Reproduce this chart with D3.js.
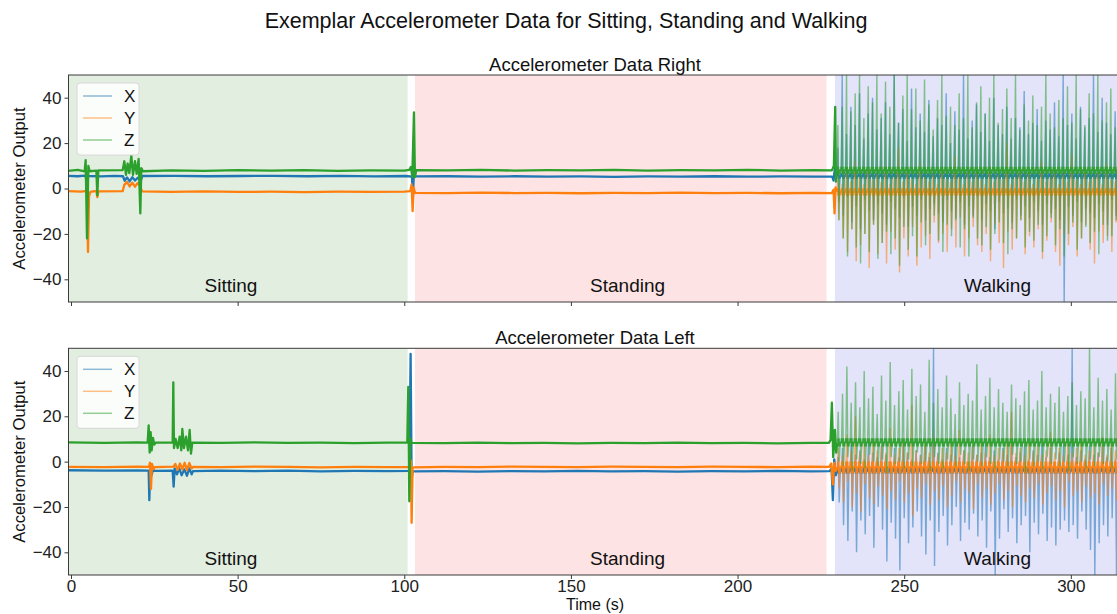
<!DOCTYPE html>
<html><head><meta charset="utf-8">
<script src="https://cdn.jsdelivr.net/npm/d3@7/dist/d3.min.js"></script>
<style>body{margin:0;background:#fff}</style>
</head><body>
<svg id="chart" width="1117" height="614"></svg>
<script>
// ---------------- DATA ----------------
const seriesNames = ["X", "Y", "Z"];
const xTicks = [0, 50, 100, 150, 200, 250, 300];
const yTicks = [-40, -20, 0, 20, 40];
const activities = ["Sitting", "Standing", "Walking"];
const activityStart = [-0.75, 103.2, 229.2];
const activityEnd = [101.0, 226.7, 315.2];
const activityLabelT = [48, 167, 278];

// Right sensor: calm periods [time, value]
const rightXCalm = [[-0.8,5.6],[2,5.4],[4.3,5.7],[4.6,4.0],[4.9,6.6],[5.3,5.5],[9,5.3],[13,5.6],[15.6,5.4],[16.1,3.4],[16.8,4.9],[17.6,3.1],[18.4,5.0],[19.2,3.5],[20.1,4.8],[20.9,3.2],[21.4,5.5],[31,5.6],[41,5.4],[51,5.5],[61,5.6],[71,5.4],[81,5.6],[91,5.3],[100.5,5.5],[102.3,5.2],[102.6,-4],[102.9,7.5],[103.3,5.3],[113,5.4],[123,5.2],[133,5.4],[143,5.2],[153,5.3],[163,5.1],[173,5.3],[183,5.2],[193,5.4],[203,5.2],[213,5.3],[223,5.2],[228.4,5.2],[228.8,3.5],[229.2,9],[229.8,5.5]];
const rightYCalm = [[-0.8,-1.2],[3,-1.4],[4.8,-1.0],[5.1,-28],[5.4,-3.5],[5.8,-1.5],[7.6,-1.0],[7.9,-3.8],[8.2,-1.3],[15.5,-1.2],[16,1.6],[16.8,2.9],[17.6,0.9],[18.4,2.6],[19.2,0.8],[20,2.4],[20.8,1.0],[21.3,-1.3],[30,-1.5],[40,-1.3],[50,-1.5],[60,-1.4],[70,-1.6],[80,-1.4],[90,-1.5],[100,-1.4],[101.8,-1.2],[102.2,1.8],[102.5,-10],[102.8,0.5],[103.2,-1.9],[113,-2.0],[123,-1.8],[133,-2.0],[143,-1.9],[153,-2.1],[163,-1.9],[173,-2.0],[183,-1.8],[193,-2.0],[203,-1.9],[213,-2.1],[223,-1.9],[228.3,-2.0],[228.8,-0.5],[229.1,-11],[229.4,0.5],[229.8,-1.5]];
const rightZCalm = [[-0.8,7.8],[2,8.2],[4.1,7.5],[4.4,12.5],[4.8,-22],[5.2,10],[5.6,7.6],[7.6,7.9],[7.9,-3],[8.2,8],[15.5,8.1],[16,12],[16.5,6],[17,11],[17.5,6.8],[18.1,14.5],[18.6,6],[19.2,12],[19.7,6.5],[20.3,13],[20.8,-11],[21.1,9],[21.6,7.6],[30,8.0],[40,7.8],[50,8.1],[60,7.9],[70,8.1],[80,7.8],[90,8.0],[100,7.9],[101.5,8.2],[102,9.5],[102.4,5],[102.9,33.5],[103.2,5],[103.6,8.1],[113,8.0],[123,8.2],[133,7.9],[143,8.1],[153,8.0],[163,8.2],[173,7.9],[183,8.1],[193,8.0],[203,8.2],[213,7.9],[223,8.1],[228.3,8.0],[228.9,10],[229.3,36],[229.5,3],[229.8,8]];

// Right sensor walking: per-stride peaks and troughs
const rightWalkStart = 229.8;
const rightBase = [5.5, -1.5, 8];
const rightXPeaks = [18,50,24,36,28,42,22,33,40,26,31, 38,24,50,29,35,21,44,27,33,25,39, 23,31,28,42,20,34,26,50,22,30,37, 25,33,21,40,28,24,36,22,31,27,43, 24,29,35,21,30,26,38,23,50,28,33, 22,36,27,31,50,25,40,29,24,34,26];
const rightXTroughs = [-6,-12,-4,-15,-8,-18,-5,-10,-14,-7,-11, -16,-6,-9,-13,-4,-17,-8,-12,-5,-14,-9, -7,-11,-15,-5,-10,-13,-6,-16,-8,-12,-4, -14,-7,-10,-18,-6,-11,-9,-15,-5,-12,-8, -13,-6,-10,-16,-7,-11,-9,-14,-50,-8,-12, -6,-15,-9,-11,-13,-7,-10,-16,-5,-12,-8];
const rightYPeaks = [4,2,8,3,12,5,2,9,4,6,3, 10,2,5,18,3,7,4,2,11,5,3, 6,2,9,4,3,14,5,2,7,3,8, 4,2,10,3,6,4,20,2,5,9,3, 7,2,4,12,3,5,8,2,6,3,15, 4,2,9,3,5,7,2,11,4,3,6];
const rightYTroughs = [-14,-22,-28,-18,-32,-25,-20,-35,-16,-29,-24, -33,-19,-27,-37,-22,-30,-17,-34,-26,-21,-31, -15,-24,-20,-28,-18,-26,-13,-30,-22,-17,-25, -28,-20,-32,-16,-24,-35,-19,-27,-22,-14,-29, -21,-26,-18,-31,-23,-15,-28,-34,-20,-25,-17, -30,-22,-16,-27,-33,-19,-24,-21,-28,-15,-23];
const rightZPeaks = [28,36,50,34,42,50,31,45,38,50,33, 47,36,50,29,41,50,35,44,30,48,37, 26,39,50,32,36,28,42,31,50,27,38, 45,33,40,50,29,35,44,31,50,26,37, 30,41,28,36,50,33,27,39,31,45,29, 50,35,28,42,33,50,30,38,44,27,36];
const rightZTroughs = [-14,-22,-30,-18,-26,-33,-20,-28,-16,-31,-24, -19,-29,-22,-34,-17,-27,-21,-30,-15,-25,-20, -12,-23,-28,-16,-21,-14,-26,-18,-30,-13,-22, -25,-17,-27,-20,-15,-24,-29,-18,-22,-14,-26, -19,-23,-16,-28,-21,-13,-25,-18,-30,-20,-15, -27,-22,-17,-24,-19,-29,-16,-23,-21,-14,-20];

// Left sensor: calm periods [time, value]
const leftXCalm = [[-0.8,-3.8],[10,-4.0],[20,-3.9],[23.3,-4],[23.5,-17],[23.8,-2],[24.2,-6],[24.6,-3.4],[25,-4.1],[30.5,-4],[30.8,-11],[31.1,-3],[31.8,-5.6],[32.5,-3],[33.2,-6],[34,-3.4],[34.8,-6.2],[35.5,-3],[36.2,-5.6],[36.6,-4.2],[45,-4],[55,-4.2],[65,-4.0],[75,-4.3],[85,-4.1],[95,-4.2],[101.5,-4.1],[101.9,47.5],[102.2,-8],[102.5,-4.3],[112,-4.2],[122,-4.4],[132,-4.2],[142,-4.3],[152,-4.1],[162,-4.3],[172,-4.2],[182,-4.4],[192,-4.2],[202,-4.3],[212,-4.1],[222,-4.3],[227.6,-4.2],[228.2,-3],[228.6,-17],[229,1],[229.5,-6],[229.9,-4]];
const leftYCalm = [[-0.8,-2.3],[10,-2.4],[20,-2.2],[23.4,-2.3],[23.7,-0.5],[24,-12],[24.3,-1],[24.8,-3.2],[25.2,-2.4],[30.8,-2.2],[31.3,-1],[32,-3.6],[32.7,-0.8],[33.4,-3.4],[34.1,-0.5],[34.8,-3.7],[35.5,-0.6],[36.2,-3.1],[36.6,-2.3],[45,-2.4],[55,-2.2],[65,-2.3],[75,-2.5],[85,-2.3],[95,-2.4],[101.7,-2.3],[102.0,0.5],[102.2,-27],[102.5,-2.5],[112,-2.3],[122,-2.4],[132,-2.2],[142,-2.3],[152,-2.4],[162,-2.2],[172,-2.3],[182,-2.4],[192,-2.2],[202,-2.3],[212,-2.4],[222,-2.2],[227.5,-2.3],[228.1,-0.8],[228.6,-10],[229,-0.5],[229.5,-4],[229.9,-2.5]];
const leftZCalm = [[-0.8,8.5],[10,8.3],[20,8.5],[23,8.4],[23.3,16],[23.6,4],[23.9,13],[24.2,5],[24.6,10.5],[25,7.5],[25.4,8.4],[30.5,8.4],[30.7,35],[30.9,6],[31.4,10],[32,6],[32.6,11],[33.1,5],[33.4,14.5],[33.9,6],[34.5,11],[35.1,5],[35.6,14],[36,3.5],[36.4,8.4],[45,8.3],[55,8.5],[65,8.3],[75,8.4],[85,8.2],[95,8.4],[100.9,8.4],[101.2,33],[101.5,-17.5],[101.8,10],[102.2,8.3],[112,8.2],[122,8.4],[132,8.2],[142,8.3],[152,8.1],[162,8.3],[172,8.2],[182,8.4],[192,8.2],[202,8.3],[212,8.1],[222,8.3],[227.4,8.3],[227.9,9.5],[228.3,26],[228.7,2],[229.2,14],[229.6,4],[229.9,8.5]];

// Left sensor walking: per-stride peaks and troughs
const leftWalkStart = 229.9;
const leftBase = [-4, -2.5, 8.5];
const leftXPeaks = [2,6,0,8,3,5,1,9,4,2,7, 3,0,6,2,8,4,1,5,3,7,2, 50,4,1,6,3,9,2,5,0,7,3, 4,8,2,5,1,6,3,10,2,4,7, 1,5,3,8,2,6,0,4,7,3,50, 2,5,1,7,3,4,8,2,6,1,4];
const leftXTroughs = [-18,-28,-35,-22,-40,-26,-32,-24,-38,-20,-30, -44,-27,-34,-48,-25,-36,-29,-22,-33,-41,-26, -46,-31,-24,-37,-28,-20,-35,-27,-30,-23,-33, -26,-38,-22,-50,-34,-21,-31,-25,-36,-28,-24, -40,-27,-32,-23,-35,-29,-37,-30,-26,-31,-28, -34,-22,-30,-39,-50,-36,-28,-33,-25,-50,-24];
const leftYPeaks = [6,3,12,5,20,4,8,3,10,5,7, 4,15,3,6,9,4,25,5,3,8,4, 11,3,6,4,9,3,14,5,4,7,3, 8,4,12,3,6,5,9,22,4,6,3, 10,4,7,3,5,13,4,6,3,8,4, 6,9,3,5,7,4,11,3,8,5,6];
const leftYTroughs = [-12,-18,-9,-20,-14,-22,-10,-16,-19,-11,-15, -21,-13,-17,-9,-18,-14,-24,-12,-16,-10,-19, -13,-17,-11,-20,-15,-9,-18,-12,-14,-21,-10, -16,-12,-19,-14,-10,-17,-13,-20,-11,-15,-18, -12,-16,-10,-19,-14,-11,-17,-13,-20,-9,-15, -13,-18,-11,-16,-14,-19,-10,-15,-12,-17,-13];
const leftZPeaks = [22,30,42,26,35,24,40,28,33,21,38, 27,44,25,31,36,23,41,29,34,22,45, 26,32,24,38,28,21,35,25,30,27,43, 23,29,37,24,32,26,22,34,28,25,31, 36,23,27,40,24,30,26,33,22,29,35, 25,31,28,50,24,37,27,32,23,39,26];
const leftZTroughs = [0,-2,2,-4,1,-1,-3,3,0,-2,1, -5,2,-1,0,-3,1,-2,4,-1,0,-4, 2,-1,-3,1,0,-2,3,-1,-4,1,0, -2,2,-1,-3,1,0,-2,3,-1,0,-5, 1,-2,0,-3,2,-1,1,-2,0,-4,2, -1,0,-3,1,-2,2,-1,0,-3,1,-2];

// ---------------- LAYOUT / STYLE ----------------
const W = 1117, H = 614;
const colors = ["#1f77b4", "#ff7f0e", "#2ca02c"];
const shadeColors = ["#e2eee0", "#fde3e3", "#e3e3fa"];
const stride = 1.3;
const font = "'Liberation Sans', Arial, Helvetica, sans-serif";
const axLeft = 68.5, axRight = 1121.5;
const panels = [
  {title: "Accelerometer Data Right", top: 75, bottom: 302, calm: [rightXCalm, rightYCalm, rightZCalm],
   walkStart: rightWalkStart, base: rightBase, band: [1.2, 1.6, 1.6],
   peaks: [rightXPeaks, rightYPeaks, rightZPeaks], troughs: [rightXTroughs, rightYTroughs, rightZTroughs], xLabels: false},
  {title: "Accelerometer Data Left", top: 348.3, bottom: 575, calm: [leftXCalm, leftYCalm, leftZCalm],
   walkStart: leftWalkStart, base: leftBase, band: [1.2, 2.6, 1.8],
   peaks: [leftXPeaks, leftYPeaks, leftZPeaks], troughs: [leftXTroughs, leftYTroughs, leftZTroughs], xLabels: true}
];

const svg = d3.select("#chart");
svg.append("rect").attr("width", W).attr("height", H).attr("fill", "#fff");

svg.append("text").attr("x", 566).attr("y", 28).attr("text-anchor", "middle")
  .attr("font-family", font).attr("font-size", 21.5).attr("fill", "#111")
  .text("Exemplar Accelerometer Data for Sitting, Standing and Walking");

const x = d3.scaleLinear().domain([-0.75, 315.2]).range([axLeft, axRight]);

function walkPoints(t0, base, peaks, troughs) {
  const pts = [];
  peaks.forEach((p, i) => {
    const t = t0 + i * stride;
    pts.push([t, base], [t + 0.3, p], [t + 0.6, troughs[i]], [t + 0.9, base]);
  });
  return pts;
}

const defs = svg.append("defs");

panels.forEach((p, pi) => {
  const y = d3.scaleLinear().domain([-50, 50]).range([p.bottom, p.top]);
  const g = svg.append("g");
  const clipId = "clip" + pi;
  defs.append("clipPath").attr("id", clipId).append("rect")
    .attr("x", axLeft).attr("y", p.top).attr("width", axRight - axLeft).attr("height", p.bottom - p.top);

  // shaded activity spans
  activities.forEach((a, i) => {
    g.append("rect").attr("clip-path", `url(#${clipId})`)
      .attr("x", x(activityStart[i])).attr("y", p.top)
      .attr("width", x(activityEnd[i]) - x(activityStart[i])).attr("height", p.bottom - p.top)
      .attr("fill", shadeColors[i]);
  });

  const line = d3.line().x(d => x(d[0])).y(d => y(d[1]));
  const lines = g.append("g").attr("clip-path", `url(#${clipId})`);
  seriesNames.forEach((s, si) => {
    const wp = walkPoints(p.walkStart, p.base[si], p.peaks[si], p.troughs[si]);
    lines.append("path").datum(p.calm[si]).attr("d", line)
      .attr("fill", "none").attr("stroke", colors[si]).attr("stroke-width", 2.3).attr("stroke-linejoin", "round");
    lines.append("path").datum(wp).attr("d", line)
      .attr("fill", "none").attr("stroke", colors[si]).attr("stroke-width", 1.4).attr("stroke-opacity", 0.55);
    // dense signal band around the baseline while walking
    const bandId = `band${pi}_${si}`;
    defs.append("clipPath").attr("id", bandId).append("rect")
      .attr("x", x(p.walkStart)).attr("y", y(p.base[si] + p.band[si]))
      .attr("width", axRight - x(p.walkStart)).attr("height", y(p.base[si] - p.band[si]) - y(p.base[si] + p.band[si]));
    lines.append("path").datum(wp).attr("d", line).attr("clip-path", `url(#${bandId})`)
      .attr("fill", "none").attr("stroke", colors[si]).attr("stroke-width", 2).attr("stroke-opacity", 0.9);
  });

  // activity labels
  activities.forEach((a, i) => {
    g.append("text").attr("x", x(activityLabelT[i])).attr("y", y(-45.6)).attr("text-anchor", "middle")
      .attr("font-family", font).attr("font-size", 19).attr("fill", "#111").text(a);
  });

  // frame
  g.append("rect").attr("x", axLeft).attr("y", p.top).attr("width", axRight - axLeft).attr("height", p.bottom - p.top)
    .attr("fill", "none").attr("stroke", "#3a3a3a").attr("stroke-width", 1);

  // axes
  const yAxis = d3.axisLeft(y).tickValues(yTicks).tickSize(4).tickPadding(3)
    .tickFormat(d => d < 0 ? "\u2212" + Math.abs(d) : String(d));
  const ya = g.append("g").attr("transform", `translate(${axLeft},0)`).call(yAxis);
  ya.select(".domain").remove();
  ya.selectAll("line").attr("stroke", "#3a3a3a");
  ya.selectAll("text").attr("font-family", font).attr("font-size", 17).attr("fill", "#222");

  const xAxis = d3.axisBottom(x).tickValues(xTicks).tickSize(4).tickPadding(1)
    .tickFormat(d => p.xLabels ? String(d) : "");
  const xa = g.append("g").attr("transform", `translate(0,${p.bottom})`).call(xAxis);
  xa.select(".domain").remove();
  xa.selectAll("line").attr("stroke", "#3a3a3a");
  xa.selectAll("text").attr("font-family", font).attr("font-size", 17).attr("fill", "#222");

  // subplot title
  g.append("text").attr("x", (axLeft + axRight) / 2).attr("y", p.top - 4.5).attr("text-anchor", "middle")
    .attr("font-family", font).attr("font-size", 18.5).attr("fill", "#111").text(p.title);

  // y label
  g.append("text").attr("transform", `translate(25,${(p.top + p.bottom) / 2}) rotate(-90)`)
    .attr("text-anchor", "middle").attr("font-family", font).attr("font-size", 16.7).attr("fill", "#111")
    .text("Accelerometer Output");

  // legend
  const lg = g.append("g").attr("transform", `translate(${axLeft + 8.5},${p.top + 8})`);
  lg.append("rect").attr("width", 62).attr("height", 72).attr("rx", 3)
    .attr("fill", "#fff").attr("fill-opacity", 0.85).attr("stroke", "#d8d8d8");
  seriesNames.forEach((s, si) => {
    const ly = 13 + si * 22;
    lg.append("line").attr("x1", 6).attr("x2", 35).attr("y1", ly).attr("y2", ly)
      .attr("stroke", colors[si]).attr("stroke-width", 1.5).attr("stroke-opacity", 0.5);
    lg.append("text").attr("x", 47).attr("y", ly + 6).attr("font-family", font).attr("font-size", 17)
      .attr("fill", "#111").text(s);
  });
});

svg.append("text").attr("x", (axLeft + axRight) / 2).attr("y", 610).attr("text-anchor", "middle")
  .attr("font-family", font).attr("font-size", 16).attr("fill", "#111").text("Time (s)");
</script>
</body></html>
